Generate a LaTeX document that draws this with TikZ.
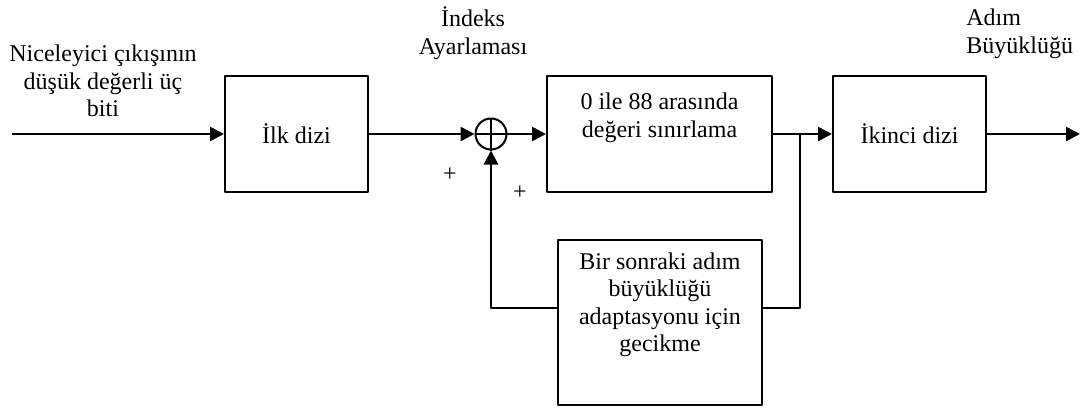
\documentclass[tikz,border=0pt]{standalone}
\usepackage{fontspec}
\setmainfont{Liberation Serif}
\usetikzlibrary{arrows.meta}
\begin{document}
\begin{tikzpicture}[x=0.5pt, y=-0.5pt, font=\fontsize{12}{13.8}\selectfont, line join=round, >={Triangle[length=7pt,width=7pt]}]
	\tikzset{
		kutu/.style={draw, line width=1pt, minimum width=#1, inner sep=0pt},
		hat/.style={line width=1.3pt},
		yazi/.style={align=center, inner sep=0pt}
	}
	\useasboundingbox (0,0) rectangle (1081,407);
	% bloklar
	\node[kutu=71.5pt, minimum height=58pt] (ilk) at (296.5,134) {İlk dizi};
	\node[kutu=112.5pt, minimum height=58pt] (sinir) at (659.5,134) {};
	\node[yazi] (sinirtxt) at (659.5,118) {0 ile 88 arasında\\değeri sınırlama};
	\node[kutu=76.5pt, minimum height=58pt] (ikinci) at (909.5,134) {İkinci dizi};
	\node[kutu=102pt, minimum height=82.5pt] (gecikme) at (660,322.5) {};
	\node[yazi, anchor=north] (gecikmetxt) at (660,252) {Bir sonraki adım\\büyüklüğü\\adaptasyonu için\\gecikme};
	% toplayici
	\node[draw, circle, line width=1pt, minimum size=15.5pt, inner sep=0pt] (top) at (491,134) {};
	\draw[line width=1pt] (top.north) -- (top.south) (top.west) -- (top.east);
	% etiketler
	\node[yazi] (giristxt) at (103,81) {Niceleyici çıkışının\\düşük değerli üç\\biti};
	\node[yazi] (indeks) at (473,33) {İndeks\\Ayarlaması};
	\node[yazi, anchor=west, align=left] (adim) at (966,34) {Adım\\Büyüklüğü};
	\node (arti1) at (450,175) {+};
	\node (arti2) at (520,193) {+};
	% baglantilar
	\coordinate (giris) at (12,134);
	\coordinate (cikis) at (1080,134);
	\coordinate (dal) at (800,134);
	\coordinate (geri) at (800,308);
	\coordinate (donus) at (491,308);
	\draw[hat, ->] (giris) -- (ilk);
	\draw[hat, ->] (ilk) -- (top);
	\draw[hat, ->] (top) -- (sinir);
	\draw[hat, ->] (sinir) -- (ikinci);
	\draw[hat, ->] (ikinci) -- (cikis);
	\draw[hat] (dal) -- (geri) -- (geri -| gecikme.east);
	\draw[hat, ->] (geri -| gecikme.west) -- (donus) -- (top);
\end{tikzpicture}
\end{document}
